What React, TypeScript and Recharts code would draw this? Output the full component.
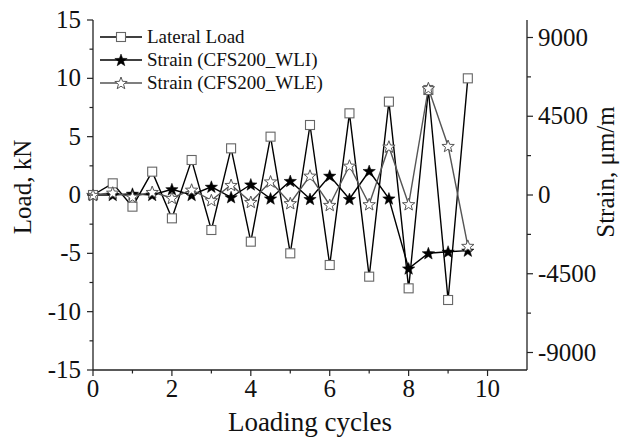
import { Legend, Line, LineChart, XAxis, YAxis } from "recharts";

const cycles = [0, 0.5, 1, 1.5, 2, 2.5, 3, 3.5, 4, 4.5, 5, 5.5, 6, 6.5, 7, 7.5, 8, 8.5, 9, 9.5];
const lateralLoad = [0, 1, -1, 2, -2, 3, -3, 4, -4, 5, -5, 6, -6, 7, -7, 8, -8, 9, -9, 10];
const strainWLI = [0, 0, 70, 0, 330, 0, 470, -130, 600, -200, 800, -230, 1100, -230, 1370, -200, -4200, -3330, -3240, -3180];
const strainWLE = [0, 130, -100, 170, -170, 300, -300, 570, -400, 770, -470, 1100, -570, 1670, -530, 2760, -530, 6100, 2800, -2910];

const cycleTicks = [0, 1, 2, 3, 4, 5, 6, 7, 8, 9, 10];
const cycleLabels = [0, 2, 4, 6, 8, 10];
const loadTicks = [-15, -12.5, -10, -7.5, -5, -2.5, 0, 2.5, 5, 7.5, 10, 12.5, 15];
const loadLabels = [-15, -10, -5, 0, 5, 10, 15];
const strainTicks = [-9000, -6750, -4500, -2250, 0, 2250, 4500, 6750, 9000];
const strainLabels = [-9000, -4500, 0, 4500, 9000];

const seriesNames = ["Lateral Load", "Strain (CFS200_WLI)", "Strain (CFS200_WLE)"];

const rows = cycles.map((c, i) => ({
  cycle: c,
  load: lateralLoad[i],
  wli: strainWLI[i],
  wle: strainWLE[i]
}));

const FONT = '"Liberation Serif", "Times New Roman", serif';
const AXIS = "#222";

function starPoints(cx: number, cy: number, R: number, r: number) {
  const pts: string[] = [];
  for (let k = 0; k < 10; k++) {
    const rad = k % 2 === 0 ? R : r;
    const a = -Math.PI / 2 + (k * Math.PI) / 5;
    pts.push(`${cx + rad * Math.cos(a)},${cy + rad * Math.sin(a)}`);
  }
  return pts.join(" ");
}

const SquareDot = (p: any) => (
  <rect key={p.index} x={p.cx - 4.5} y={p.cy - 4.5} width={9} height={9} fill="#fff" stroke="#666" strokeWidth={1.1} />
);
const FilledStar = (p: any) => (
  <polygon key={p.index} points={starPoints(p.cx, p.cy + 0.5, 6.5, 2.7)} fill="#000" stroke="#000" strokeWidth={0.5} />
);
const OpenStar = (p: any) => (
  <polygon key={p.index} points={starPoints(p.cx, p.cy + 0.5, 6.5, 2.7)} fill="#fff" stroke="#555" strokeWidth={1} />
);

const BottomTick = ({ x, y, payload }: any) => {
  const major = cycleLabels.includes(payload.value);
  return (
    <g>
      <line x1={x} x2={x} y1={y} y2={y + (major ? 6 : 3.5)} stroke={AXIS} strokeWidth={1.2} />
      {major && (
        <text x={x} y={y + 27} textAnchor="middle" fontSize={25} fontFamily={FONT} fill="#111">
          {payload.value}
        </text>
      )}
    </g>
  );
};

const TopTick = ({ x, y }: any) => (
  <line x1={x} x2={x} y1={y} y2={y + 5} stroke={AXIS} strokeWidth={1.2} />
);

const LeftTick = ({ x, y, payload }: any) => {
  const major = loadLabels.includes(payload.value);
  return (
    <g>
      <line x1={x} x2={x - (major ? 6 : 3.5)} y1={y} y2={y} stroke={AXIS} strokeWidth={1.2} />
      {major && (
        <text x={x - 12} y={y + 8} textAnchor="end" fontSize={25} fontFamily={FONT} fill="#111">
          {payload.value}
        </text>
      )}
    </g>
  );
};

const RightTick = ({ x, y, payload }: any) => {
  const major = strainLabels.includes(payload.value);
  return (
    <g>
      <line x1={x} x2={x + (major ? 6 : 4)} y1={y} y2={y} stroke={AXIS} strokeWidth={1.2} />
      {major && (
        <text x={x + 11} y={y + 8} textAnchor="start" fontSize={25} fontFamily={FONT} fill="#111">
          {payload.value}
        </text>
      )}
    </g>
  );
};

const LegendBox = () => (
  <svg width={260} height={72}>
    {seriesNames.map((name, i) => {
      const cy = 12 + i * 23;
      return (
        <g key={name}>
          <line x1={2} x2={44} y1={cy} y2={cy} stroke={i === 2 ? "#555" : "#000"} strokeWidth={1.4} />
          {i === 0 && <SquareDot cx={23} cy={cy} />}
          {i === 1 && <FilledStar cx={23} cy={cy} />}
          {i === 2 && <OpenStar cx={23} cy={cy} />}
          <text x={49} y={cy + 6} fontSize={19} fontFamily={FONT} fill="#111">
            {name}
          </text>
        </g>
      );
    })}
  </svg>
);

export default function App() {
  return (
    <div style={{ position: "absolute", left: 0, top: 0, width: 622, height: 441, background: "#fff" }}>
      <LineChart width={622} height={441} data={rows} margin={{ top: 20, right: 0, bottom: 0, left: 0 }}>
        <XAxis
          xAxisId="bottom"
          dataKey="cycle"
          type="number"
          domain={[0, 11]}
          ticks={cycleTicks}
          interval={0}
          height={71}
          tickSize={0}
          tickMargin={0}
          tick={BottomTick}
          axisLine={{ stroke: AXIS, strokeWidth: 1.3 }}
          label={{
            content: () => (
              <text x={310} y={431} textAnchor="middle" fontSize={27} fontFamily={FONT} fill="#111">
                Loading cycles
              </text>
            )
          }}
        />
        <XAxis
          xAxisId="top"
          orientation="top"
          dataKey="cycle"
          type="number"
          domain={[0, 11]}
          ticks={cycleTicks}
          interval={0}
          height={0}
          tickSize={0}
          tickMargin={0}
          tick={TopTick}
          axisLine={{ stroke: AXIS, strokeWidth: 1.3 }}
        />
        <YAxis
          yAxisId="load"
          type="number"
          domain={[-15, 15]}
          ticks={loadTicks}
          interval={0}
          width={93}
          tickSize={0}
          tickMargin={0}
          tick={LeftTick}
          axisLine={{ stroke: AXIS, strokeWidth: 1.3 }}
          label={{
            content: () => (
              <text x={31} y={187} transform="rotate(-90, 31, 187)" textAnchor="middle" fontSize={25} fontFamily={FONT} fill="#111">
                Load, kN
              </text>
            )
          }}
        />
        <YAxis
          yAxisId="strain"
          orientation="right"
          type="number"
          domain={[-10000, 10000]}
          ticks={strainTicks}
          interval={0}
          width={95}
          tickSize={0}
          tickMargin={0}
          tick={RightTick}
          axisLine={{ stroke: AXIS, strokeWidth: 1.3 }}
          label={{
            content: () => (
              <text x={614} y={172} transform="rotate(-90, 614, 172)" textAnchor="middle" fontSize={25} fontFamily={FONT} fill="#111">
                Strain, μm/m
              </text>
            )
          }}
        />
        <Legend
          layout="vertical"
          align="center"
          verticalAlign="middle"
          content={LegendBox}
          wrapperStyle={{ left: 98, top: 25, width: 260, height: 72 }}
        />
        <Line
          xAxisId="bottom"
          yAxisId="strain"
          dataKey="wli"
          stroke="#000"
          strokeWidth={1.4}
          dot={FilledStar}
          activeDot={false}
          isAnimationActive={false}
        />
        <Line
          xAxisId="bottom"
          yAxisId="load"
          dataKey="load"
          stroke="#000"
          strokeWidth={1.4}
          dot={SquareDot}
          activeDot={false}
          isAnimationActive={false}
        />
        <Line
          xAxisId="bottom"
          yAxisId="strain"
          dataKey="wle"
          stroke="#555"
          strokeWidth={1.4}
          dot={OpenStar}
          activeDot={false}
          isAnimationActive={false}
        />
      </LineChart>
    </div>
  );
}
